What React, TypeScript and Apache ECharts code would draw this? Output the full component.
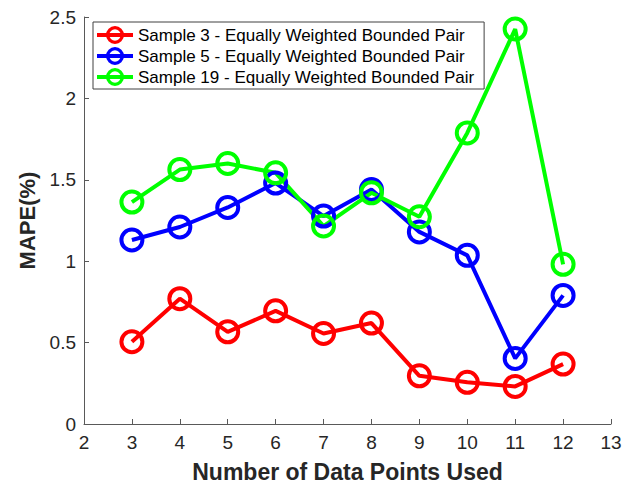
import React, { useEffect, useRef } from "react";
import * as echarts from "echarts";

// Number of data points used (x values)
const pointsUsed = [3, 4, 5, 6, 7, 8, 9, 10, 11, 12];

// MAPE (%) per sample
const sample3 = [0.505, 0.77, 0.566, 0.695, 0.556, 0.62, 0.296, 0.256, 0.231, 0.368];
const sample5 = [1.13, 1.21, 1.33, 1.48, 1.277, 1.44, 1.18, 1.036, 0.403, 0.79];
const sample19 = [1.363, 1.563, 1.6, 1.543, 1.216, 1.42, 1.273, 1.788, 2.426, 0.981];

const seriesNames = [
  "Sample 3 - Equally Weighted Bounded Pair",
  "Sample 5 - Equally Weighted Bounded Pair",
  "Sample 19 - Equally Weighted Bounded Pair",
];
const seriesColors = ["#ff0000", "#0000ff", "#00ff00"];
const seriesValues = [sample3, sample5, sample19];

// Hollow ring marker (outer r 10, inner r 6.8)
const ringSymbol =
  "path://M0,10A10,10 0 1,1 20,10A10,10 0 1,1 0,10Z M3.2,10A6.8,6.8 0 1,0 16.8,10A6.8,6.8 0 1,0 3.2,10Z";
// Legend icon: line through a ring
const legendIcon =
  "path://M0,7H36V11H0Z M9,9A9,9 0 1,1 27,9A9,9 0 1,1 9,9Z M12.3,9A5.7,5.7 0 1,0 23.7,9A5.7,5.7 0 1,0 12.3,9Z";

const FONT = "'Liberation Sans', Arial, Helvetica, sans-serif";
const AXIS_COLOR = "#595959";
const TEXT_COLOR = "#262626";

export default function App() {
  const ref = useRef<HTMLDivElement>(null);

  useEffect(() => {
    if (!ref.current) return;
    document.body.style.margin = "0";
    const chart = echarts.init(ref.current, undefined, { renderer: "svg" });

    chart.setOption({
      animation: false,
      backgroundColor: "#ffffff",
      textStyle: { fontFamily: FONT },
      grid: { left: 84, right: 31, top: 17, bottom: 63, containLabel: false },
      legend: {
        orient: "vertical",
        left: 93,
        top: 22,
        padding: [4, 10, 3, 4],
        itemGap: 3,
        itemWidth: 36,
        itemHeight: 18,
        icon: legendIcon,
        backgroundColor: "#ffffff",
        borderColor: "#404040",
        borderWidth: 1,
        borderRadius: 0,
        textStyle: { fontFamily: FONT, fontSize: 17, color: "#000000" },
        itemStyle: { borderWidth: 0 },
        data: seriesNames,
      },
      xAxis: {
        type: "value",
        min: 2,
        max: 13,
        interval: 1,
        name: "Number of Data Points Used",
        nameLocation: "middle",
        nameGap: 36,
        nameTextStyle: { fontFamily: FONT, fontSize: 23, fontWeight: "bold", color: TEXT_COLOR },
        axisLine: { show: true, lineStyle: { color: AXIS_COLOR, width: 1 } },
        axisTick: { show: true, inside: true, length: 5, lineStyle: { color: AXIS_COLOR } },
        axisLabel: { fontFamily: FONT, fontSize: 19, color: TEXT_COLOR, margin: 9 },
        splitLine: { show: false },
      },
      yAxis: {
        type: "value",
        min: 0,
        max: 2.5,
        interval: 0.5,
        name: "MAPE(%)",
        nameLocation: "middle",
        nameRotate: 90,
        nameGap: 44,
        nameTextStyle: { fontFamily: FONT, fontSize: 22, fontWeight: "bold", color: TEXT_COLOR },
        axisLine: { show: true, lineStyle: { color: AXIS_COLOR, width: 1 } },
        axisTick: { show: true, inside: true, length: 5, lineStyle: { color: AXIS_COLOR } },
        axisLabel: { fontFamily: FONT, fontSize: 19, color: TEXT_COLOR, margin: 8 },
        splitLine: { show: false },
      },
      series: seriesNames.map((name, i) => ({
        name,
        type: "line",
        data: pointsUsed.map((x, j) => [x, seriesValues[i][j]]),
        symbol: ringSymbol,
        symbolSize: 25,
        showAllSymbol: true,
        lineStyle: { color: seriesColors[i], width: 4 },
        itemStyle: { color: seriesColors[i], borderWidth: 0 },
        emphasis: { disabled: true },
      })),
    });

    return () => chart.dispose();
  }, []);

  return <div ref={ref} style={{ width: 642, height: 488 }} />;
}
